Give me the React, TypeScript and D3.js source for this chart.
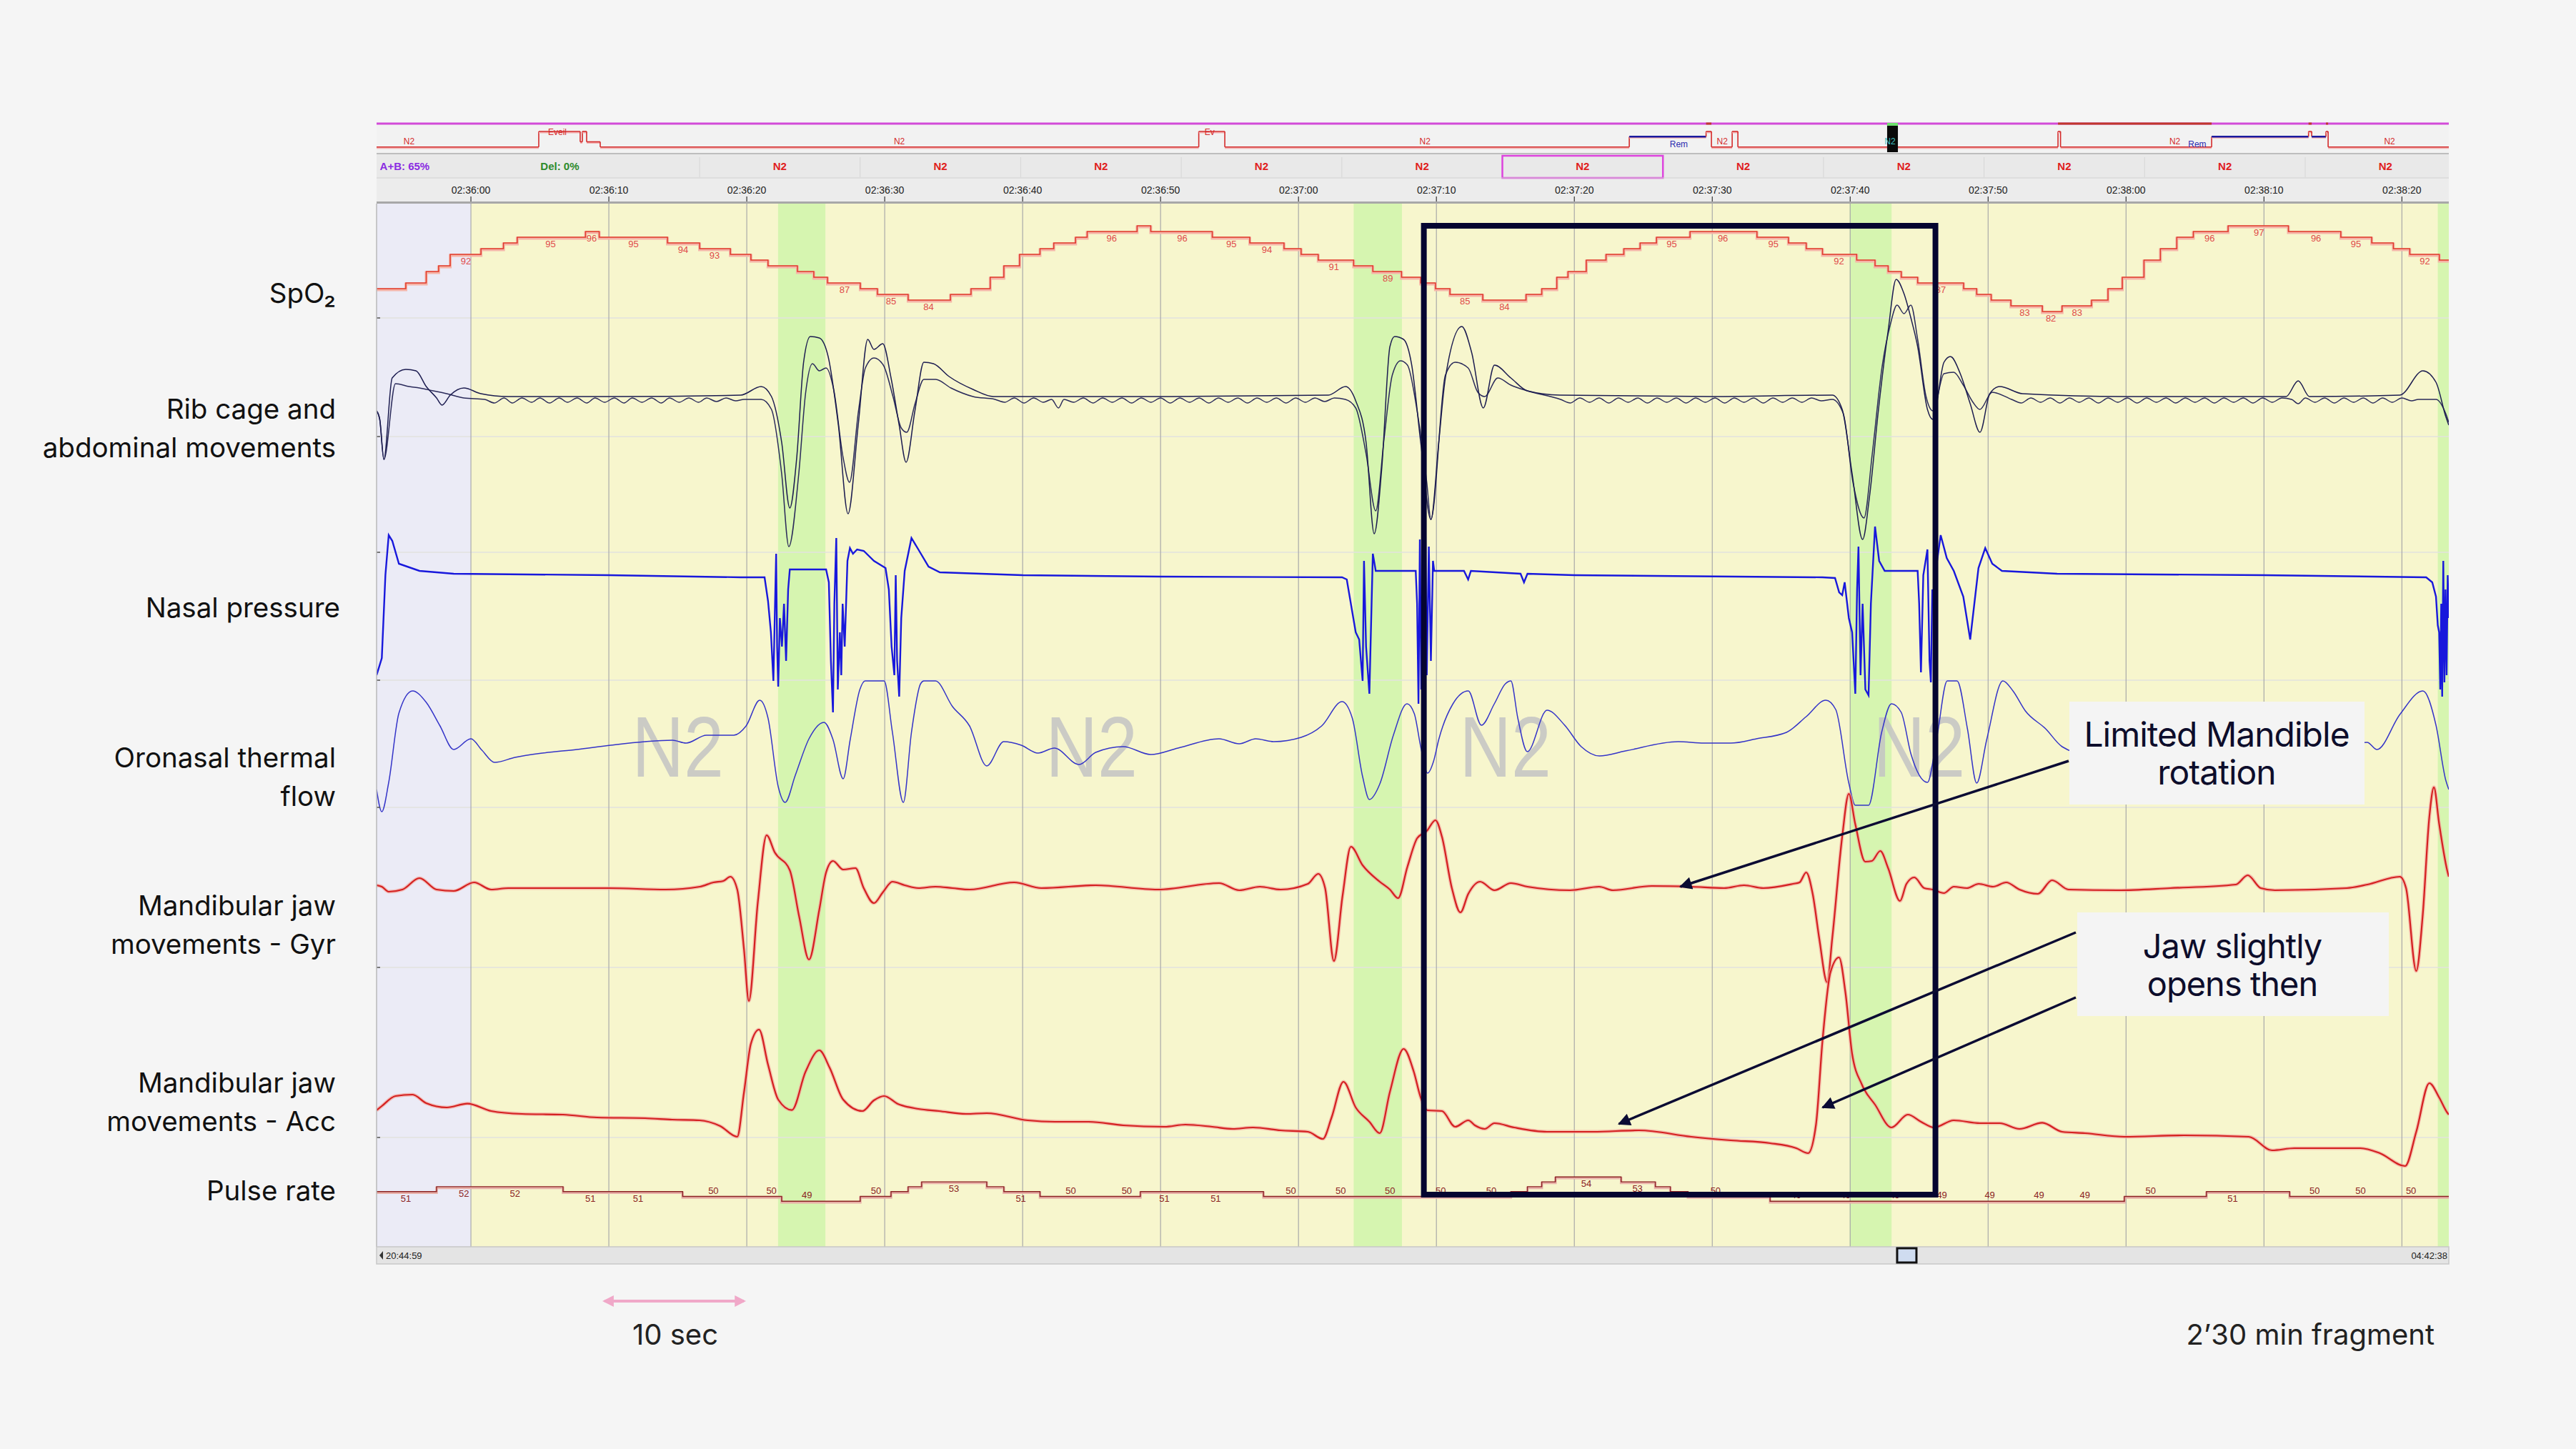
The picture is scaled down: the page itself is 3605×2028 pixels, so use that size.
import React from "react";
import * as d3 from "d3";

const W = 3605;
const H = 2028;

// ---------------- DATA ----------------
// seconds relative to 02:36:00
const tickSeconds = [0, 10, 20, 30, 40, 50, 60, 70, 80, 90, 100, 110, 120, 130, 140];
const tickLabels = [
  "02:36:00", "02:36:10", "02:36:20", "02:36:30", "02:36:40", "02:36:50", "02:37:00",
  "02:37:10", "02:37:20", "02:37:30", "02:37:40", "02:37:50", "02:38:00", "02:38:10", "02:38:20",
];
const viewStart = -6.84;
const viewEnd = 143.4;

const epochShading: [number, number, string][] = [
  [-6.84, 0, "prev"],
  [0, 143.4, "N2"],
];
const greenBands: [number, number][] = [
  [22.27, 25.7],
  [64.0, 67.5],
  [99.96, 103.0],
  [142.6, 143.4],
];
const watermarkTimes = [15, 45, 75, 105];
const watermarkStage = "N2";

const spo2Steps: [number, number][] = [
  [-6.84, 86], [-4.72, 87], [-3.24, 89], [-2.34, 90], [-1.5, 92], [0.73, 93], [2.36, 94], [3.36, 95],
  [8.31, 96], [9.3, 95], [14.25, 94], [16.58, 93], [18.81, 92], [20.3, 91], [21.54, 90], [23.67, 89],
  [24.86, 88], [25.85, 87], [28.23, 86], [29.47, 85], [31.7, 84], [34.77, 85], [36.26, 86], [37.65, 88],
  [38.64, 90], [39.78, 92], [41.26, 93], [42.26, 94], [43.84, 95], [44.68, 96], [48.3, 97], [49.29, 96],
  [53.75, 95], [56.47, 94], [58.95, 93], [60.19, 92], [61.43, 91], [64.0, 90], [65.39, 89], [67.47, 88],
  [68.86, 87], [69.93, 86], [70.98, 85], [73.36, 84], [76.5, 85], [77.64, 86], [78.73, 88], [79.54, 89],
  [80.87, 91], [82.3, 92], [83.59, 93], [84.77, 94], [85.96, 95], [88.39, 96], [93.24, 95], [95.52, 94],
  [96.81, 93], [97.99, 92], [100.47, 91], [101.8, 90], [102.75, 89], [103.7, 88], [104.89, 87],
  [108.22, 86], [109.17, 85], [110.22, 84], [111.65, 83], [113.93, 82], [115.36, 83], [117.5, 84],
  [118.69, 86], [119.73, 88], [121.3, 91], [122.49, 93], [123.68, 95], [124.88, 96], [127.4, 97],
  [131.77, 96], [135.57, 95], [137.81, 94], [139.38, 93], [140.57, 92], [142.71, 91], [143.4, 91],
];
const spo2Labels: [number, number][] = [
  [-0.36, 92], [5.78, 95], [8.75, 96], [11.78, 95], [15.39, 94], [17.67, 93], [27.09, 87], [30.46, 85],
  [33.18, 84], [46.46, 96], [51.57, 96], [55.13, 95], [57.71, 94], [62.57, 91], [66.48, 89],
  [72.07, 85], [74.93, 84], [87.06, 95], [90.77, 96], [94.43, 95], [99.18, 92], [106.56, 87],
  [112.65, 83], [114.55, 82], [116.45, 83], [126.06, 96], [129.63, 97], [133.77, 96], [136.66, 95],
  [141.66, 92],
];

const pulseSteps: [number, number][] = [
  [-6.84, 51], [-2.49, 52], [6.68, 51], [15.35, 50], [22.53, 49], [28.23, 50], [30.46, 51], [31.7, 52],
  [32.68, 53], [37.4, 52], [38.64, 51], [41.26, 50], [48.54, 51], [57.46, 50], [75.4, 51], [76.6, 52],
  [77.64, 53], [78.63, 54], [83.39, 53], [85.87, 52], [86.96, 51], [88.24, 50], [94.19, 49],
  [119.88, 50], [125.83, 51], [131.86, 50], [143.4, 50],
];
const pulseLabels: [number, number][] = [
  [-4.72, 51], [-0.51, 52], [3.2, 52], [8.66, 51], [12.12, 51], [17.58, 50], [21.79, 50], [24.36, 49],
  [29.37, 50], [35.02, 53], [39.87, 51], [43.49, 50], [47.55, 50], [50.28, 51], [54.0, 51], [59.45, 50],
  [63.06, 50], [66.63, 50], [70.31, 50], [73.98, 50], [80.87, 54], [84.58, 53], [90.24, 50], [96.09, 49],
  [99.66, 49], [103.23, 49], [106.65, 49], [110.12, 49], [113.69, 49], [117.02, 49], [121.78, 50],
  [127.73, 51], [133.67, 50], [137.0, 50], [140.66, 50],
];

// Rib cage / abdominal belts (arbitrary units)
const ribA: [number, number][] = [
  [-6.84, -10], [-6.61, -16], [-6.31, -44], [-5.71, 13], [-4.72, 19], [-3.98, 18], [-3.24, 7], [-2.49, -1],
  [-2.1, -6], [-1.5, 1], [-0.51, 6], [0.73, 2], [2.71, 0], [10, 0], [19.56, 1], [21.04, 7], [21.79, 0],
  [22.53, -32], [23.12, -78], [23.62, -43], [24.12, 24], [24.61, 42], [25.26, 41], [25.9, 28], [26.64, -20],
  [27.34, -82], [28.08, -20], [28.77, 40], [29.22, 33], [29.86, 37], [30.46, 13], [31.05, -20], [31.55, -46],
  [32.19, -10], [32.84, 24], [33.53, 23], [34.67, 14], [36.4, 5], [37.89, 0], [50, 0], [62.17, 1],
  [63.41, 7], [64.15, -3], [64.9, -32], [65.49, -96], [66.04, -50], [66.63, 35], [66.97, 42], [67.62, 40],
  [68.21, 22], [68.86, -32], [69.6, -86], [70.17, -32], [70.65, 13], [71.84, 49], [72.55, 31], [73.4, -8],
  [74.21, 22], [75.4, 13], [76.59, 4], [78.97, 1], [90, 0], [98.7, 1], [99.42, -9], [100.14, -54],
  [100.9, -100], [101.4, -70], [102.04, -10], [102.75, 46], [103.33, 82], [103.9, 72], [104.4, 55],
  [104.89, 35], [105.6, -9], [105.99, -16], [106.8, 24], [107.27, 28], [107.98, 16], [108.7, -5],
  [109.41, -25], [110.12, 2], [110.84, 7], [112.5, 2], [120, 0], [131.6, 0], [132.48, 11], [133.3, 0],
  [139.85, 1], [141.52, 18], [142.47, 10], [143.18, -14], [143.4, -20],
];
const ribB: [number, number][] = [
  [-6.84, -10], [-6.61, -16], [-6.31, -44], [-5.47, 9], [-4.47, 7], [-3.73, 6], [-2.74, 4], [-1.75, 2],
  [-0.51, -1],
  [1.0, -2], [1.7, -4.5], [2.4, -1], [3.0, -4.5], [3.7, -1], [4.4, -4], [5.0, -1], [5.7, -4.5], [6.4, -1],
  [7.0, -4], [7.7, -1], [8.4, -4.5], [9.0, -1], [9.7, -4], [10.4, -1], [11.1, -4.5], [11.7, -1], [12.4, -4],
  [13.1, -1], [13.8, -4.5], [14.4, -1], [15.1, -4], [15.8, -1], [16.5, -4], [17.1, -1], [17.8, -3.5],
  [18.5, -1], [19.2, -3], [19.8, -2],
  [21.04, -2], [21.79, -9], [22.53, -54], [23.05, -105], [23.77, -54],
  [24.26, 2], [24.76, 23], [25.26, 18], [25.75, 20], [26.3, 5], [26.99, -43], [27.45, -60], [28.1, -10],
  [28.6, 20], [29.22, 27], [29.9, 22], [30.6, 0], [31.2, -22], [31.6, -25], [32.2, -5], [32.84, 12],
  [33.7, 12], [34.8, 6], [36.4, 0],
  [38.0, -2], [38.7, -4], [39.4, -1], [40.1, -4.5], [40.8, -1], [41.5, -4], [42.1, -2], [42.6, -8], [43.0, -2],
  [43.7, -4], [44.4, -1], [45.1, -4.5], [45.8, -1], [46.5, -4], [47.2, -1], [47.9, -4.5], [48.6, -1],
  [49.3, -4], [50.0, -1], [50.7, -4.5], [51.4, -1], [52.1, -4], [52.8, -1], [53.5, -4.5], [54.2, -1],
  [54.9, -4], [55.6, -1], [56.3, -4.5], [57.0, -1], [57.7, -4], [58.4, -1], [59.1, -4.5], [59.8, -1],
  [60.5, -4], [61.2, -1], [61.9, -3.5], [62.6, -1], [63.4, -2],
  [64.15, -8], [64.9, -40], [65.6, -80], [66.2, -30], [66.8, 15], [67.4, 25], [67.9, 22], [68.6, -10],
  [69.3, -60], [69.6, -86], [70.65, 15], [71.36, 24], [72.3, 20], [73.0, 3], [73.5, 0], [74.45, 13],
  [75.4, 8], [76.59, 4],
  [79.0, -2], [79.7, -4.5], [80.4, -1], [81.1, -4], [81.8, -1], [82.5, -4.5], [83.2, -1], [83.9, -4],
  [84.6, -1], [85.3, -4.5], [86.0, -1], [86.7, -4], [87.4, -1], [88.1, -4.5], [88.8, -1], [89.5, -4],
  [90.2, -1], [90.9, -4.5], [91.6, -1], [92.3, -4], [93.0, -1], [93.7, -4.5], [94.4, -1], [95.1, -4],
  [95.8, -1], [96.5, -4], [97.2, -1], [97.9, -3], [98.7, -2],
  [99.5, -12], [100.2, -60], [101.0, -85], [101.6, -40], [102.3, 20],
  [102.9, 50], [103.4, 64], [103.9, 58], [104.4, 64], [104.89, 40], [105.5, 0], [106.0, -10], [106.8, 16],
  [107.5, 17], [108.2, 8], [108.9, -4], [109.4, -9], [110.3, 3],
  [111.7, -2], [112.4, -4.5], [113.1, -1], [113.8, -4], [114.5, -1], [115.2, -4.5], [115.9, -1], [116.6, -4],
  [117.3, -1], [118.0, -4.5], [118.7, -1], [119.4, -4], [120.1, -1], [120.8, -4.5], [121.5, -1], [122.2, -4],
  [122.9, -1], [123.6, -4.5], [124.3, -1], [125.0, -4], [125.7, -1], [126.4, -4.5], [127.1, -1], [127.8, -4],
  [128.5, -1], [129.2, -4.5], [129.9, -1], [130.6, -4], [131.3, -1], [132.0, -2], [132.48, -5], [133.0, -1],
  [133.7, -4], [134.4, -1], [135.1, -4.5], [135.8, -1], [136.5, -4], [137.2, -1], [137.9, -4.5], [138.6, -1],
  [139.3, -4], [140.0, -1], [140.7, -3], [141.2, -2],
  [142.47, -2], [143.18, -12], [143.4, -18],
];

const nasal: [number, number][] = [
  [-6.84, -70], [-6.46, -58], [-6.2, 0], [-5.96, 28], [-5.7, 24], [-5.22, 8], [-3.73, 3], [-1.25, 1], [10, 0],
  [19.56, -1.5], [21.29, -1.5], [21.54, -18], [21.75, -40], [21.93, -74], [22.05, -20], [22.13, 15],
  [22.2, -50], [22.28, -78], [22.4, -30], [22.55, -50], [22.7, -20], [22.85, -60], [23.0, -10], [23.12, 4],
  [23.27, 4], [25.75, 4], [25.95, -5], [26.1, -60], [26.25, -96], [26.35, -20], [26.49, 26], [26.6, -80],
  [26.75, -40], [26.85, -70], [26.95, -20], [27.1, -50], [27.3, 10], [27.48, 19], [27.7, 15], [28.0, 18],
  [28.48, 17], [29.22, 10], [30.06, 5], [30.3, -10], [30.5, -50], [30.7, -70], [30.8, 0], [30.9, -60],
  [31.05, -85], [31.2, -30], [31.45, 3], [31.94, 26], [32.44, 18], [33.18, 6], [34, 2], [40, 0], [50, -1],
  [63.16, -1.5], [63.5, -3], [64.15, -40], [64.4, -45], [64.65, -74], [64.75, 10], [64.9, -50], [65.14, -83],
  [65.3, -20], [65.39, 15], [65.6, 3], [67.62, 3], [68.5, 3], [68.6, -20], [68.7, -90], [68.8, 25],
  [68.9, -80], [69.0, 20], [69.1, -95], [69.2, 30], [69.3, -70], [69.45, 20], [69.6, -60], [69.75, 10],
  [69.84, 3], [72.0, 3], [72.3, -3], [72.5, 3], [76.1, 1], [76.35, -5], [76.6, 1], [80, 0], [97.99, -1.5],
  [98.9, -2], [99.2, -12], [99.42, -14], [99.6, -5], [99.9, -30], [100.14, -40], [100.37, -83], [100.5, -10],
  [100.6, 20], [100.75, -70], [100.9, -20], [101.1, -80], [101.33, -84], [101.5, -20], [101.8, 34],
  [102.1, 10], [102.5, 3], [104.89, 3], [105.0, -20], [105.13, -68], [105.3, 0], [105.6, 18], [105.75, -60],
  [105.85, -75], [105.95, -10], [106.1, -20], [106.3, 10], [106.56, 28], [107.0, 12], [107.51, 3],
  [108.2, -15], [108.7, -45], [109.0, -20], [109.3, 5], [109.79, 19], [110.3, 8], [111.0, 3], [115, 1],
  [130, 0], [141.76, -1.5], [142.2, -5], [142.47, -15], [142.6, -35], [142.7, -40], [142.78, -80],
  [142.85, -20], [142.92, -85], [143.0, 10], [143.08, -75], [143.16, -10], [143.24, -70], [143.32, 0],
  [143.4, -30],
];

const flow: [number, number][] = [
  [-6.84, -60], [-6.46, -91], [-5.96, -50], [-5.22, 47], [-4.23, 78], [-3.24, 62], [-2.24, 29], [-1.25, -4],
  [0.0, 11], [0.8, -5], [1.72, -22], [3.2, -15], [5.19, -9], [7.67, -4], [10.14, 2], [12.62, 7], [14.6, 9],
  [15.6, 5], [17.08, 16], [19.06, 16], [19.95, 29], [20.94, 65], [21.54, 40], [22.28, -56], [22.78, -78],
  [23.52, -40], [24.51, 11], [25.6, 34], [26.25, 10], [26.99, -45], [27.5, 10], [28.2, 80], [28.58, 92],
  [29.96, 92], [30.56, 20], [31.35, -78], [31.94, 20], [32.6, 88], [32.84, 92], [33.68, 92], [34.92, 56],
  [36.15, 29], [37.4, -27], [38.63, 7], [39.9, 2], [41.11, -9], [42.3, -2], [44.09, -25], [45.3, -8],
  [47.3, 0], [49.29, -11], [51.27, -2], [54.24, 11], [55.7, 4], [56.9, 11], [58.2, 7], [60.19, 13],
  [61.68, 29], [63.16, 63], [63.9, 40], [64.65, -42], [65.14, -74], [65.9, -52], [66.88, 16], [67.87, 60],
  [68.4, 46], [68.86, 0], [69.36, -37], [69.8, -20], [70.17, 10], [71.2, 60], [72.31, 78], [73.26, 30],
  [74.2, 60], [75.0, 88], [75.4, 92], [75.9, 40], [76.59, -7], [78.02, 51], [79.3, 30], [80.5, 0],
  [81.82, -13], [83.7, -6], [87.53, 7], [89.4, 5], [91.34, 5], [93.2, 11], [95.38, 20], [96.81, 42],
  [98.23, 65], [98.95, 52], [99.9, -51], [100.37, -82], [101.33, -82], [102.28, 20], [102.99, 60],
  [103.7, 48], [104.4, -10], [105.6, -50], [106.3, 15], [107.03, 92], [107.75, 92], [108.5, 25],
  [109.17, -51], [109.9, 10], [111.07, 92], [111.8, 78], [112.7, 50], [114.17, 25], [115.36, 0],
  [117, -10], [120, 0], [124, 10], [128, 5], [132, 10], [135, 0], [137.48, 6], [138.19, -4], [139.85, 45],
  [141.52, 78], [142.47, 30], [143.18, -47], [143.4, -60],
];

const gyr: [number, number][] = [
  [-6.84, 2], [-6.46, 1], [-5.96, -2.5], [-4.97, -1], [-3.73, 7], [-2.49, -1], [-1.25, -2], [0.23, 4],
  [1.47, -1], [2.71, 0], [10, 0], [14.11, -1], [16.6, 1], [17.58, 4], [18.3, 5], [18.81, 8], [19.31, -1],
  [19.8, -43], [20.15, -79], [20.8, -10], [21.44, 37], [22.03, 25], [23.12, 12.5], [23.8, -20], [24.51, -50],
  [25.26, -15], [25.75, 11], [26.25, 19], [26.99, 13], [27.88, 14], [28.48, 0], [29.22, -10.5], [29.86, -3],
  [30.56, 4.5], [31.45, 2], [32.44, 0], [33.68, 1], [34.92, 0], [36.16, -1], [39.38, 4], [41.36, 0],
  [45.3, 2], [49.8, -1], [54.24, 3.5], [55.7, -1.5], [57.2, 1], [58.7, -1], [60.68, 3], [61.43, 10],
  [61.93, 0], [62.57, -51], [63.2, -5], [63.8, 29], [64.65, 16], [65.89, 4.5], [66.63, -1], [67.22, -7],
  [67.9, 15], [68.61, 35], [69.3, 40], [69.93, 47.5], [70.4, 36], [71.12, 0], [71.74, -17], [72.31, -4],
  [73.17, 4.5], [74.21, -1.5], [75.4, 3.5], [76.6, 1], [79.68, -1.5], [81.8, 1], [82.8, -1.5], [85.6, 1.5],
  [88.48, 1], [90.86, 0], [92.3, 2], [93.7, 0], [95.86, 3], [96.33, 4], [96.81, 11], [97.28, -4],
  [97.76, -35.5], [98.33, -66], [98.7, -35], [99.42, 36], [99.9, 66], [100.37, 44.7], [101.09, 18.5],
  [101.57, 19], [102.18, 26], [102.75, 14], [103.61, -9], [104.08, 3], [104.65, 7.5], [105.37, 0],
  [105.99, -1], [106.79, -3.5], [107.51, 1], [108.46, 0], [109.32, 3], [110.36, 1], [111.31, 4],
  [112.27, -1], [113.6, -4], [114.64, 5.5], [115.83, -1], [119.4, -1.5], [123.2, 0], [127.96, 2.5],
  [128.82, 9], [129.77, 0], [130.8, -1.5], [136.0, 0], [137.5, 2.5], [139.85, 8], [140.3, 0],
  [141.04, -58], [141.5, -20], [141.99, 50], [142.32, 70.6], [142.7, 45], [143.28, 12.5], [143.4, 8],
];

const acc: [number, number][] = [
  [-6.84, -2], [-6.46, 1], [-5.47, 8], [-4.23, 9], [-3.24, 3], [-1.75, 0], [-0.26, 2.7], [1.47, -2.5],
  [3.7, -4.5], [6.68, -5], [9.15, -7], [12.62, -7.5], [14.6, -8.5], [16.58, -9], [18.07, -13],
  [19.31, -20.5], [19.8, 10.7], [20.3, 44.6], [20.89, 54.5], [21.54, 30], [22.28, 5.5], [23.27, -1.8],
  [24.26, 25], [25.26, 40], [26.0, 28], [26.99, 5.5], [28.38, -2.5], [29.22, 5], [29.96, 8], [30.95, 2.5],
  [32.44, -1], [33.93, -2.5], [35.9, -4.5], [37.4, -4], [40.37, -9], [42.35, -10], [44.8, -10],
  [47.3, -12.5], [50.28, -13.5], [51.8, -12], [53.75, -13.5], [55.23, -15], [56.7, -14], [58.7, -16],
  [60.68, -17], [61.77, -22], [62.4, -7], [63.26, 18], [64.15, 0], [65.14, -10], [65.89, -18], [66.63, 11],
  [67.62, 41], [68.36, 25], [68.86, 7], [69.36, -2], [70.4, -2.5], [71.36, -13.5], [72.31, -9],
  [72.79, -12.5], [73.5, -15], [74.21, -11], [75.64, -14], [78.02, -17], [81.35, -17], [84.68, -16],
  [88.48, -20.5], [91.34, -23], [94.19, -25], [96.09, -28.5], [96.95, -32], [97.52, -12], [97.99, 46.5],
  [98.57, 94.6], [99.19, 105], [99.66, 80], [100.14, 37.5], [100.85, 16], [101.8, 2], [102.99, -14],
  [104.18, -5], [105.13, -10], [106.08, -14], [107.51, -9], [109.41, -11], [110.84, -11], [112.27, -15],
  [113.93, -10.7], [115.36, -17], [117.02, -18], [119.88, -20.5], [124.2, -19.5], [128.9, -20.5],
  [130.58, -30], [132.2, -28.5], [137.0, -28.5], [138.4, -32], [140.23, -41], [141.04, -17], [141.99, 17],
  [142.7, 7], [143.28, -3.5], [143.4, -5],
];

// Whole-night hypnogram (seconds since 20:44:59, night ends 04:42:38)
const nightLength = 28659;
const hypnogram: [number, number, string][] = [
  [0, 2243, "N2"], [2243, 2816, "W"], [2816, 2846, "N1"], [2846, 2905, "W"], [2905, 3093, "N1"],
  [3093, 11371, "N2"], [11371, 11731, "W"], [11731, 17325, "N2"], [17325, 18387, "R"], [18387, 18461, "W"],
  [18461, 18748, "N2"], [18748, 18827, "W"], [18827, 23254, "N2"], [23254, 23289, "W"], [23289, 25379, "N2"],
  [25379, 26719, "R"], [26719, 26763, "W"], [26763, 26960, "R"], [26960, 26990, "W"], [26990, 28659, "N2"],
];
const stageOrder = ["W", "R", "N1", "N2", "N3"];
const hypnoLabels: [number, string][] = [
  [450, "N2"], [2500, "Eveil"], [7230, "N2"], [11520, "Ev"], [14500, "N2"], [18010, "Rem"],
  [18610, "N2"], [20930, "N2"], [25180, "Rem"], [24870, "N2"], [27840, "N2"],
];
const arousalMarks: [number, number][] = [
  [18387, 18461], [23254, 25379], [26719, 26763], [26960, 26990],
];
const cursorSpan: [number, number] = [20891, 21040];
const nightStartLabel = "20:44:59";
const nightEndLabel = "04:42:38";

const epochRow = ["A+B: 65%", "Del: 0%", "N2", "N2", "N2", "N2", "N2", "N2", "N2", "N2", "N2", "N2", "N2"];
const selectedEpoch = 7;

const channelLabels: string[][] = [
  ["SpO\u2082"],
  ["Rib cage and", "abdominal movements"],
  ["Nasal pressure"],
  ["Oronasal thermal", "flow"],
  ["Mandibular jaw", "movements - Gyr"],
  ["Mandibular jaw", "movements - Acc"],
  ["Pulse rate"],
];

const boxSpan: [number, number] = [69.09, 106.18];
const scaleBarSeconds: [number, number] = [9.69, 19.79];

// ---------------- COMPONENT ----------------
const SW = "Liberation Sans, Arial, sans-serif";
const SLIDE = "Inter, 'Noto Sans', sans-serif";

export default function App() {
  const L = 527, R = 3427, TOP = 285, BOT = 1745;
  const x = d3.scaleLinear().domain([viewStart, viewEnd]).range([L, R]);
  const xn = d3.scaleLinear().domain([0, nightLength]).range([L, R]);
  const spo2Y = d3.scaleLinear().domain([80, 100]).range([452, 292]);
  const pulseY = d3.scaleLinear().domain([45, 58]).range([1708.5, 1620.1]);
  const ribY = d3.scaleLinear().domain([-100, 100]).range([755, 355]);
  const nasalY = d3.scaleLinear().domain([-100, 100]).range([1005, 605]);
  const flowY = d3.scaleLinear().domain([-100, 100]).range([1145, 945]);
  const gyrY = d3.scaleLinear().domain([-100, 100]).range([1443, 1043]);
  const accY = d3.scaleLinear().domain([-100, 100]).range([1750, 1350]);
  const stageY = d3.scalePoint<string>().domain(stageOrder).range([184, 213]);
  const epochX = d3.scaleBand<number>().domain(d3.range(epochRow.length)).range([529.6, 529.6 + 224.7 * epochRow.length]);

  const mk = (ys: d3.ScaleLinear<number, number>, curve: d3.CurveFactory) =>
    d3.line<[number, number]>().x((d) => x(d[0])).y((d) => ys(d[1])).curve(curve);

  const spo2Path = mk(spo2Y, d3.curveStepAfter)(spo2Steps) || "";
  const pulsePath = mk(pulseY, d3.curveStepAfter)(pulseSteps) || "";
  const ribAPath = mk(ribY, d3.curveMonotoneX)(ribA) || "";
  const ribBPath = mk(ribY, d3.curveMonotoneX)(ribB) || "";
  const nasalPath = mk(nasalY, d3.curveLinear)(nasal) || "";
  const flowPath = mk(flowY, d3.curveMonotoneX)(flow) || "";
  const gyrPath = mk(gyrY, d3.curveMonotoneX)(gyr) || "";
  const accPath = mk(accY, d3.curveMonotoneX)(acc) || "";

  const hGridY = [445, 611, 773, 952, 1130, 1354, 1592];
  const labelBaselines = [424, 586, 864, 1074, 1281, 1529, 1680];

  const hypSegs = hypnogram.map(([s, e, st], i) => {
    const y = stageY(st)!;
    const prev = i > 0 ? stageY(hypnogram[i - 1][2])! : y;
    return { x0: xn(s), x1: xn(e), y, prev, st };
  });

  const navy = "#0b0b33";

  return (
    <svg width={W} height={H} style={{ position: "absolute", left: 0, top: 0, display: "block" }}>
      <defs>
        <clipPath id="plotClip">
          <rect x={L} y={TOP} width={R - L} height={BOT - TOP} />
        </clipPath>
        <clipPath id="headClip">
          <rect x={L} y={165} width={R - L} height={120} />
        </clipPath>
        <marker id="ahNavy" viewBox="0 0 10 10" refX="9" refY="5" markerWidth="6" markerHeight="5" orient="auto-start-reverse">
          <path d="M0,0 L10,5 L0,10 z" fill={navy} />
        </marker>
        <marker id="ahPink" viewBox="0 0 10 10" refX="8" refY="5" markerWidth="4" markerHeight="4" orient="auto-start-reverse">
          <path d="M0,0 L10,5 L0,10 z" fill="#f0a8c8" />
        </marker>
      </defs>
      <rect x={0} y={0} width={W} height={H} fill="#f5f5f5" />

      {/* ---------- header ---------- */}
      <g clipPath="url(#headClip)">
        <rect x={L} y={173} width={R - L} height={42} fill="#f2f2f2" />
        <rect x={L} y={215} width={R - L} height={34} fill="#e9e9e9" />
        <rect x={L} y={249} width={R - L} height={35} fill="#ececec" />
        <line x1={L} x2={R} y1={173} y2={173} stroke="#d24bd8" strokeWidth={3} />
        {arousalMarks.map(([s, e], i) => (
          <rect key={i} x={xn(s)} y={171.5} width={Math.max(2, xn(e) - xn(s))} height={3} fill="#c0392b" />
        ))}
        {hypSegs.map((g, i) => (
          <g key={i}>
            {i > 0 && <line x1={g.x0} x2={g.x0} y1={g.prev} y2={g.y} stroke="#d42a2a" strokeWidth={1.6} />}
            <line x1={g.x0} x2={g.x1} y1={g.y + 1.5} y2={g.y + 1.5} stroke="#f3b0b0" strokeWidth={2} />
            <line x1={g.x0} x2={g.x1} y1={g.y} y2={g.y} stroke={g.st === "R" ? "#1a1aa0" : "#d42a2a"} strokeWidth={g.st === "R" ? 2.5 : 1.6} />
          </g>
        ))}
        <rect x={xn(cursorSpan[0])} y={172} width={xn(cursorSpan[1]) - xn(cursorSpan[0])} height={41} fill="#0a0a0a" />
        <rect x={xn(cursorSpan[0])} y={172} width={xn(cursorSpan[1]) - xn(cursorSpan[0])} height={4} fill="#6ee06e" />
        {hypnoLabels.map(([s, t], i) => {
          const onCursor = s >= cursorSpan[0] && s <= cursorSpan[1];
          const isEv = t.startsWith("Ev");
          const isRem = t === "Rem";
          return (
            <text key={i} x={xn(s)} y={isEv ? 189 : isRem ? 206 : 202} fontFamily={SW} fontSize={12}
              textAnchor="middle" fill={onCursor ? "#3fc0c0" : isRem ? "#2a2ab0" : "#d42a2a"}>{t}</text>
          );
        })}
        <line x1={L} x2={R} y1={215} y2={215} stroke="#bdbdbd" strokeWidth={2} />
        {epochRow.map((lab, i) => {
          const x0 = epochX(i)!;
          const bw = epochX.bandwidth();
          if (i === 0)
            return <text key={i} x={x0 + 2} y={238} fontFamily={SW} fontSize={15} fontWeight="bold" fill="#8a2be2">{lab}</text>;
          if (i === 1)
            return <text key={i} x={x0 + 2} y={238} fontFamily={SW} fontSize={15} fontWeight="bold" fill="#2e8b2e">{lab}</text>;
          return (
            <g key={i}>
              <line x1={x0} x2={x0} y1={220} y2={248} stroke="#d6d6d6" strokeWidth={1} />
              <text x={x0 + bw / 2} y={238} fontFamily={SW} fontSize={15} fontWeight="bold" textAnchor="middle" fill="#e02020">{lab}</text>
            </g>
          );
        })}
        <rect x={epochX(selectedEpoch)!} y={218} width={epochX.bandwidth()} height={31} fill="none" stroke="#dd44dd" strokeWidth={2.5} />
        <line x1={L} x2={R} y1={249} y2={249} stroke="#d0d0d0" strokeWidth={1} />
        {tickSeconds.map((s, i) => (
          <g key={i}>
            <line x1={x(s)} x2={x(s)} y1={275} y2={283} stroke="#333" strokeWidth={1.2} />
            <text x={x(s)} y={271} fontFamily={SW} fontSize={14} textAnchor="middle" fill="#222">{tickLabels[i]}</text>
          </g>
        ))}
      </g>
      <line x1={L} x2={R} y1={283.5} y2={283.5} stroke="#a8a8a8" strokeWidth={3} />

      {/* ---------- plot body ---------- */}
      <g clipPath="url(#plotClip)">
        {epochShading.map(([a, b, k], i) => (
          <rect key={i} x={x(a)} y={TOP} width={x(b) - x(a)} height={BOT - TOP} fill={k === "prev" ? "#ebebf6" : "#f7f6cd"} />
        ))}
        {greenBands.map(([a, b], i) => (
          <rect key={i} x={x(a)} y={TOP} width={x(b) - x(a)} height={BOT - TOP} fill="#d6f5b0" />
        ))}
        {hGridY.map((y, i) => (
          <line key={i} x1={L} x2={R} y1={y} y2={y} stroke="#e2e2de" strokeWidth={1.5} />
        ))}
        {tickSeconds.map((s, i) => (
          <line key={i} x1={x(s)} x2={x(s)} y1={TOP} y2={BOT} stroke="#a9a9a9" strokeWidth={1.2} />
        ))}
        {watermarkTimes.map((t, i) => (
          <text key={i} transform={`translate(${x(t)},1087) scale(0.83,1)`} fontFamily={SW} fontSize={121}
            textAnchor="middle" fill="#c4c4c4" opacity={0.85}>{watermarkStage}</text>
        ))}

        <path d={spo2Path} fill="none" stroke="#f5b4a8" strokeWidth={4} transform="translate(0,1.5)" />
        <path d={spo2Path} fill="none" stroke="#e03a2a" strokeWidth={1.5} />
        {spo2Labels.map(([t, v], i) => (
          <text key={i} x={x(t)} y={spo2Y(v) + 14} fontFamily={SW} fontSize={13} textAnchor="middle" fill="#e04a4a">{v}</text>
        ))}

        <path d={ribBPath} fill="none" stroke="#2a2a5a" strokeWidth={1.5} />
        <path d={ribAPath} fill="none" stroke="#1c1c50" strokeWidth={1.5} />

        <path d={nasalPath} fill="none" stroke="#1818dc" strokeWidth={2.4} />

        <path d={flowPath} fill="none" stroke="#3434c8" strokeWidth={1.5} />

        <path d={gyrPath} fill="none" stroke="#f4a8a0" strokeWidth={5} opacity={0.7} />
        <path d={gyrPath} fill="none" stroke="#d42020" strokeWidth={2.2} />
        <path d={accPath} fill="none" stroke="#f4a8a0" strokeWidth={5} opacity={0.7} />
        <path d={accPath} fill="none" stroke="#d42020" strokeWidth={2.2} />

        <path d={pulsePath} fill="none" stroke="#e8b0a8" strokeWidth={3.5} transform="translate(0,1.5)" />
        <path d={pulsePath} fill="none" stroke="#8b2323" strokeWidth={1.4} />
        {pulseLabels.map(([t, v], i) => (
          <text key={i} x={x(t)} y={v <= 50 ? pulseY(v) - 4 : pulseY(v) + 14} fontFamily={SW} fontSize={13}
            textAnchor="middle" fill="#8b2323">{v}</text>
        ))}
      </g>
      {hGridY.map((y, i) => (
        <line key={i} x1={L} x2={L + 5} y1={y} y2={y} stroke="#555" strokeWidth={1.5} />
      ))}
      <line x1={L} x2={L} y1={TOP} y2={BOT} stroke="#b8b8b8" strokeWidth={1.5} />

      {/* bottom scrollbar */}
      <rect x={L} y={1745} width={R - L} height={24} fill="#e4e4e4" stroke="#c8c8c8" strokeWidth={1.5} />
      <path d={`M${L + 9},1751 L${L + 9},1763 L${L + 4},1757 z`} fill="#333" />
      <text x={L + 13} y={1762} fontFamily={SW} fontSize={13} fill="#222">{nightStartLabel}</text>
      <text x={R - 2} y={1762} fontFamily={SW} fontSize={13} textAnchor="end" fill="#222">{nightEndLabel}</text>
      <rect x={xn(cursorSpan[0]) + 14} y={1747} width={27} height={20} fill="#cfdcf0" stroke="#111" strokeWidth={3} />

      {/* ---------- annotations ---------- */}
      <rect x={x(boxSpan[0])} y={316} width={x(boxSpan[1]) - x(boxSpan[0])} height={1356} fill="none" stroke="#050530" strokeWidth={8} />

      <line x1={2895} y1={1065} x2={x(87.69)} y2={gyrY(1)} stroke={navy} strokeWidth={3.5} markerEnd="url(#ahNavy)" />
      <line x1={2905} y1={1305} x2={x(83.23)} y2={accY(-11.5)} stroke={navy} strokeWidth={3.5} markerEnd="url(#ahNavy)" />
      <line x1={2905} y1={1396} x2={x(98.0)} y2={accY(0)} stroke={navy} strokeWidth={3.5} markerEnd="url(#ahNavy)" />

      <rect x={2896} y={982} width={413} height={144} fill="#f4f4f4" />
      <text x={3102} y={1045} fontFamily={SLIDE} fontSize={48} letterSpacing={-1} textAnchor="middle" fill="#0d0d2b">Limited Mandible</text>
      <text x={3102} y={1098} fontFamily={SLIDE} fontSize={48} letterSpacing={-1} textAnchor="middle" fill="#0d0d2b">rotation</text>

      <rect x={2907} y={1277} width={436} height={145} fill="#f4f4f4" />
      <text x={3124} y={1341} fontFamily={SLIDE} fontSize={47} letterSpacing={-1} textAnchor="middle" fill="#0d0d2b">Jaw slightly</text>
      <text x={3124} y={1394} fontFamily={SLIDE} fontSize={47} letterSpacing={-1} textAnchor="middle" fill="#0d0d2b">opens then</text>

      {channelLabels.map((lines, i) =>
        lines.map((ln, j) => (
          <text key={`${i}-${j}`} x={i === 2 ? 476 : 470} y={labelBaselines[i] + j * 54} fontFamily={SLIDE} fontSize={38.5}
            textAnchor="end" fill="#111">{ln}</text>
        ))
      )}

      <line x1={x(scaleBarSeconds[0])} x2={x(scaleBarSeconds[1])} y1={1821} y2={1821} stroke="#f0a8c8" strokeWidth={4}
        markerStart="url(#ahPink)" markerEnd="url(#ahPink)" />
      <text x={945} y={1882} fontFamily={SLIDE} fontSize={40} textAnchor="middle" fill="#222">10 sec</text>
      <text x={3407} y={1882} fontFamily={SLIDE} fontSize={40} textAnchor="end" fill="#222">2’30 min fragment</text>
    </svg>
  );
}
